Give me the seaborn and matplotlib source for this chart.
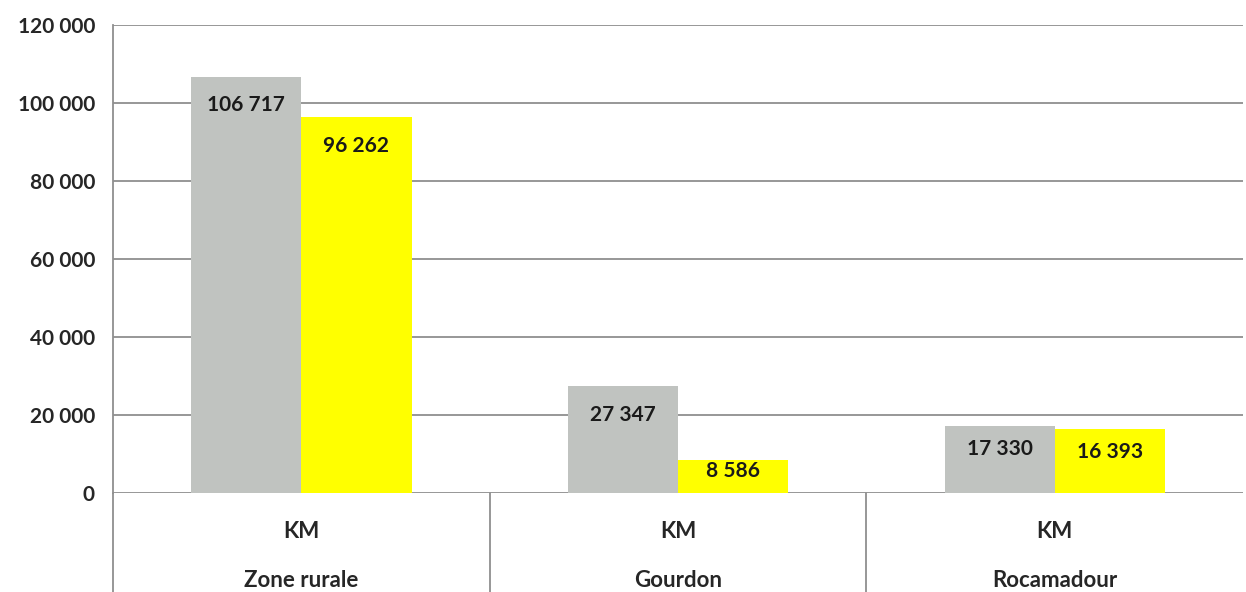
import pandas as pd
import seaborn as sns
import matplotlib.pyplot as plt
from matplotlib.ticker import FuncFormatter
from matplotlib.transforms import blended_transform_factory

# Chart values
zones = ["Zone rurale", "Gourdon", "Rocamadour"]
serie_1 = [106717, 27347, 17330]
serie_2 = [96262, 8586, 16393]
series_names = ["Série 1", "Série 2"]
colors = ["#C0C3C0", "#FFFF00"]

df = pd.DataFrame({
    "zone": zones * 2,
    "km": serie_1 + serie_2,
    "serie": [series_names[0]] * 3 + [series_names[1]] * 3,
})

sns.set_style("white")
plt.rcParams["font.family"] = ["Lato", "DejaVu Sans"]

fig = plt.figure(figsize=(12.46, 5.92), dpi=100)
ax = fig.add_axes([0.0907, 0.167, 0.907, 0.791])

sns.barplot(data=df, x="zone", y="km", hue="serie", palette=colors,
            width=0.585, gap=0, saturation=1, legend=False, ax=ax)
for p in ax.patches:
    p.set_edgecolor("none")

ax.set_ylim(0, 120000)
ax.set_xlim(-0.5, 2.5)
ax.set_yticks(range(0, 120001, 20000))
ax.yaxis.set_major_formatter(FuncFormatter(lambda v, _: f"{int(v):,}".replace(",", " ")))
ax.grid(axis="y", color="#8f8f8f", linewidth=1.3)
ax.set_axisbelow(True)
ax.tick_params(axis="y", length=8, color="#8f8f8f", width=1.3, labelsize=15, pad=5)
for lab in ax.get_yticklabels():
    lab.set_fontweight("bold")

ax.set_xticks(range(len(zones)))
ax.set_xticklabels([f"KM\n{z}" for z in zones], fontsize=16, fontweight="bold",
                   linespacing=2.65)
ax.tick_params(axis="x", length=0, pad=20)
ax.set_xlabel("")
ax.set_ylabel("")

for side in ["top", "right", "bottom"]:
    ax.spines[side].set_visible(False)
ax.spines["left"].set_color("#8f8f8f")
ax.spines["left"].set_linewidth(1.3)

# category separators below the value axis
trans = blended_transform_factory(ax.transData, ax.transAxes)
for xs in [-0.5, 0.5, 1.5]:
    ax.plot([xs, xs], [0, -0.22], transform=trans, color="#8f8f8f",
            linewidth=1.3, clip_on=False)

# value labels inside the bars
for cont in ax.containers:
    for bar in cont:
        v = bar.get_height()
        y = max(v - 7300, v * 0.65)
        ax.text(bar.get_x() + bar.get_width() / 2, y,
                f"{int(round(v)):,}".replace(",", " "),
                ha="center", va="center", fontsize=15, fontweight="bold",
                color="#1a1a1a")

fig.savefig("out.png", dpi=100)
